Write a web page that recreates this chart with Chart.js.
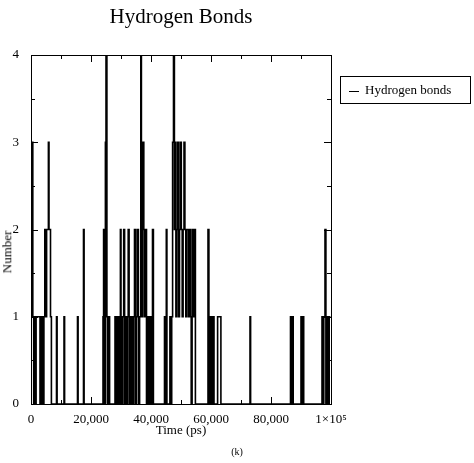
<!DOCTYPE html>
<html><head><meta charset="utf-8">
<script src="https://cdn.jsdelivr.net/npm/chart.js@4"></script>
<style>
body{margin:0;background:#fff;font-family:"Liberation Serif",serif;}
#wrap{position:relative;width:474px;height:463px;}
.t{position:absolute;color:#000;white-space:nowrap;}
</style></head><body>
<div id="wrap">
<canvas id="c" width="474" height="463"></canvas>
<div class="t" style="left:0;width:362px;top:4px;text-align:center;font-size:21px;">Hydrogen Bonds</div>
<div class="t" style="left:-14px;top:244px;font-size:13px;transform:rotate(-90deg);">Number</div>
<div class="t" style="left:31px;width:300px;top:422px;text-align:center;font-size:13px;">Time (ps)</div>
<div class="t" style="left:0;width:474px;top:446px;text-align:center;font-size:10px;">(k)</div>
<div class="t" style="left:340px;top:76px;width:129px;height:26px;border:1px solid #000;font-size:13px;line-height:26px;">
 <span style="display:inline-block;width:10px;border-top:1px solid #000;vertical-align:middle;margin:0 6px 0 8px;"></span>Hydrogen bonds</div>
</div>
<script>
// time in thousands of ps, number of bonds
var times = [0,0.3,0.6,0.9,1.1,1.4,1.7,2.5,3.0,3.4,3.8,4.3,4.6,4.9,5.2,5.5,5.8,6.0,6.2,6.5,6.8,7.1,8.5,8.7,11.0,11.2,15.5,15.7,17.5,17.7,
  24.0,24.2,24.5,24.8,25.0,25.3,25.5,26.0,26.2,
  28.0,28.3,28.6,28.9,29.2,29.5,29.8,30.0,30.3,30.6,30.9,31.2,31.5,31.8,32.1,32.4,32.7,33.0,33.3,33.6,33.9,34.2,34.5,34.8,35.1,35.4,35.8,
  36.2,36.6,36.8,37.0,37.3,37.6,37.9,38.2,38.5,39.0,39.3,39.7,40.1,40.5,40.8,
  44.5,44.7,45.1,45.3,46.3,46.6,46.9,47.2,47.5,47.8,48.0,48.3,48.6,48.9,49.2,49.5,49.8,50.1,50.4,50.7,51.0,51.3,51.6,51.9,52.2,52.5,52.8,53.1,53.4,53.7,54.0,54.4,54.8,
  59.0,59.3,59.6,60.0,60.5,61.0,62.2,63.0,63.3,73.0,73.2,
  86.5,86.8,87.1,87.4,90.0,90.3,90.6,90.9,97.0,97.3,97.6,98.0,98.3,98.7,99.0,99.4,99.8];
var counts = [1,3,1,0,1,0,1,1,0,1,0,1,2,1,2,2,3,2,2,1,0,0,1,0,1,0,1,0,2,0,
  1,2,0,3,4,1,0,1,0,
  1,0,1,0,1,0,2,1,0,1,2,0,1,0,1,2,0,1,0,1,0,1,2,0,1,2,0,
  1,4,2,1,3,2,1,2,0,1,0,1,0,2,0,
  1,0,2,0,1,0,1,3,4,2,3,1,2,3,1,2,3,2,1,2,3,2,1,2,2,1,2,1,0,2,1,2,0,
  2,0,1,0,1,0,1,1,0,1,0,
  1,0,1,0,1,0,1,0,1,0,1,2,0,1,0,1,1];
var xTicks = [0,20000,40000,60000,80000,100000];
var yTicks = [0,1,2,3,4];

var pts = times.map(function(t, i) { return { x: t * 1000, y: counts[i] }; });

var boxTicks = {
  id: 'boxTicks',
  afterDraw: function(chart) {
    var a = chart.chartArea, ctx = chart.ctx, xs = chart.scales.x, ys = chart.scales.y;
    ctx.save();
    ctx.strokeStyle = '#000'; ctx.lineWidth = 1;
    ctx.strokeRect(a.left + 0.5, a.top + 0.5, a.right - a.left, a.bottom - a.top);
    for (var v = 0; v <= 100000; v += 10000) {
      var p = Math.round(xs.getPixelForValue(v)) + 0.5, L = v % 20000 === 0 ? 7 : 4;
      ctx.beginPath(); ctx.moveTo(p, a.bottom); ctx.lineTo(p, a.bottom - L);
      ctx.moveTo(p, a.top); ctx.lineTo(p, a.top + L); ctx.stroke();
    }
    for (var y = 0; y <= 4; y += 0.5) {
      var q = Math.round(ys.getPixelForValue(y)) + 0.5, M = y % 1 === 0 ? 7 : 4;
      ctx.beginPath(); ctx.moveTo(a.left, q); ctx.lineTo(a.left + M, q);
      ctx.moveTo(a.right, q); ctx.lineTo(a.right - M, q); ctx.stroke();
    }
    ctx.restore();
  }
};

new Chart(document.getElementById('c'), {
  type: 'scatter',
  data: { datasets: [{ data: pts, showLine: true, stepped: true, borderColor: '#000', borderWidth: 1.6, pointRadius: 0 }] },
  options: {
    responsive: false, animation: false,
    layout: { padding: { top: 55, right: 143, left: 0, bottom: 0 } },
    plugins: { legend: { display: false }, tooltip: { enabled: false } },
    scales: {
      x: {
        type: 'linear', min: 0, max: 100000,
        afterBuildTicks: function(s) { s.ticks = xTicks.map(function(v) { return { value: v }; }); },
        afterFit: function(s) { s.height = 59; },
        grid: { display: false }, border: { color: '#000' },
        ticks: { color: '#000', font: { family: 'Liberation Serif', size: 13 }, maxRotation: 0, padding: 0,
          callback: function(v) { return v === 100000 ? '1×10⁵' : v.toLocaleString('en-US'); } }
      },
      y: {
        min: 0, max: 4,
        afterBuildTicks: function(s) { s.ticks = yTicks.map(function(v) { return { value: v }; }); },
        afterFit: function(s) { s.width = 31; },
        grid: { display: false }, border: { color: '#000' },
        ticks: { color: '#000', font: { family: 'Liberation Serif', size: 13 }, padding: 4 }
      }
    }
  },
  plugins: [boxTicks]
});
</script>
</body></html>
